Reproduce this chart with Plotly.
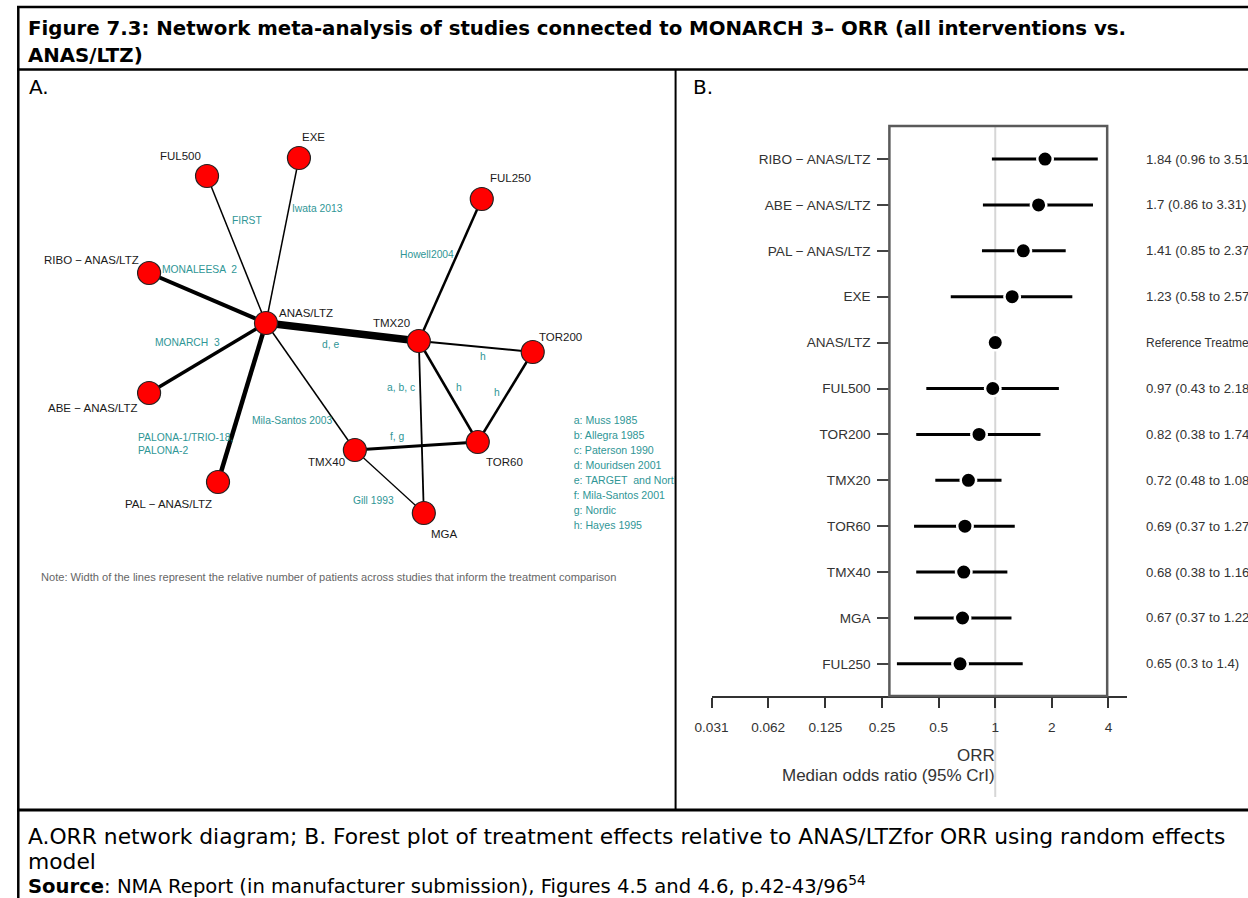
import math
import plotly.graph_objects as go

W, H = 1248, 898

# The photographed page shows the drawing horizontally offset/compressed
# (observed: photo_x ~= 15.8 + 0.9873 * page_x); target positions are
# expressed in reference-picture pixels and mapped back here.
PHOTO_OFFSET, PHOTO_SCALE = 15.8, 0.9873


def px(x):
    return max(0.0, min(1.0, ((x - PHOTO_OFFSET) / PHOTO_SCALE) / W))


def py(y):
    return 1 - y / H


# ---------------- Forest plot data (panel B) ----------------
treatments = ["RIBO − ANAS/LTZ", "ABE − ANAS/LTZ", "PAL − ANAS/LTZ", "EXE", "ANAS/LTZ",
              "FUL500", "TOR200", "TMX20", "TOR60", "TMX40", "MGA", "FUL250"]
median_or = [1.84, 1.7, 1.41, 1.23, 1.0, 0.97, 0.82, 0.72, 0.69, 0.68, 0.67, 0.65]
lower_cri = [0.96, 0.86, 0.85, 0.58, 1.0, 0.43, 0.38, 0.48, 0.37, 0.38, 0.37, 0.3]
upper_cri = [3.51, 3.31, 2.37, 2.57, 1.0, 2.18, 1.74, 1.08, 1.27, 1.16, 1.22, 1.4]
reference_treatment = "ANAS/LTZ"
x_tick_values = [0.031, 0.062, 0.125, 0.25, 0.5, 1, 2, 4]
x_tick_labels = ["0.031", "0.062", "0.125", "0.25", "0.5", "1", "2", "4"]

# ---------------- Network data (panel A) ----------------
net_nodes = ["ANAS/LTZ", "TMX20", "FUL500", "EXE", "FUL250", "RIBO − ANAS/LTZ",
             "ABE − ANAS/LTZ", "PAL − ANAS/LTZ", "TOR200", "TOR60", "TMX40", "MGA"]
# network layout coordinates (drawing units of the network diagram)
net_x = [265, 418, 206, 298, 481, 148, 148, 217, 532, 477, 354, 423]
net_y = [323, 341, 176, 158, 199, 273, 393, 482, 352, 442, 450, 513]

edge_from = ["ANAS/LTZ", "ANAS/LTZ", "ANAS/LTZ", "ANAS/LTZ", "ANAS/LTZ", "ANAS/LTZ", "ANAS/LTZ",
             "TMX20", "TMX20", "TMX20", "TMX20", "TOR200", "TMX40", "TMX40"]
edge_to = ["TMX20", "FUL500", "EXE", "RIBO − ANAS/LTZ", "ABE − ANAS/LTZ", "PAL − ANAS/LTZ", "TMX40",
           "FUL250", "TOR200", "TOR60", "MGA", "TOR60", "TOR60", "MGA"]
edge_patients = [7.5, 1.5, 1.5, 4.0, 3.5, 4.5, 1.5, 2.5, 2.0, 2.5, 1.8, 2.5, 3.0, 1.3]
edge_studies = ["d, e", "FIRST", "Iwata 2013", "MONALEESA  2", "MONARCH  3",
                "PALONA-1/TRIO-18,<br>PALONA-2", "Mila-Santos 2003", "Howell2004",
                "h", "h", "a, b, c", "h", "f, g", "Gill 1993"]
study_key = ["a: Muss 1985", "b: Allegra 1985", "c: Paterson 1990", "d: Mouridsen 2001",
             "e: TARGET  and North American", "f: Mila-Santos 2001", "g: Nordic", "h: Hayes 1995"]

# label placement (layout only)
node_label_pos = {
    "ANAS/LTZ": (305, 313), "TMX20": (391, 323), "FUL500": (179, 156), "EXE": (313, 137),
    "FUL250": (510, 178), "RIBO − ANAS/LTZ": (90, 260), "ABE − ANAS/LTZ": (92, 408),
    "PAL − ANAS/LTZ": (167, 504), "TOR200": (560, 337), "TOR60": (504, 462),
    "TMX40": (326, 462), "MGA": (444, 534),
}
edge_label_pos = [(330, 344), (246, 220), (317, 208), (198, 269), (186, 342), (135, 444),
                  (291, 420), (426, 254), (482, 356), (458, 387), (400, 387), (496, 392),
                  (397, 436), (373, 500)]

SANS = "Liberation Sans, Arial, sans-serif"
DOC = "DejaVu Sans, Verdana, sans-serif"
TEAL = "#2f9696"

fig = go.Figure()

# ---- network edges ----
idx = {n: i for i, n in enumerate(net_nodes)}
for a, b, w in zip(edge_from, edge_to, edge_patients):
    fig.add_trace(go.Scatter(
        x=[net_x[idx[a]], net_x[idx[b]]], y=[net_y[idx[a]], net_y[idx[b]]],
        mode="lines", line=dict(color="black", width=w),
        hoverinfo="skip", showlegend=False, xaxis="x", yaxis="y"))

# ---- study key (clipped by panel edge) ----
fig.add_trace(go.Scatter(
    x=[573] * len(study_key), y=[421 + 15.1 * i for i in range(len(study_key))],
    mode="text", text=study_key, textposition="middle right",
    textfont=dict(family=SANS, size=10.6, color=TEAL),
    cliponaxis=True, hoverinfo="skip", showlegend=False, xaxis="x", yaxis="y"))

# ---- network nodes ----
fig.add_trace(go.Scatter(
    x=net_x, y=net_y, mode="markers",
    marker=dict(size=23, color="#ff0000", line=dict(color="#222", width=1.2)),
    hoverinfo="skip", showlegend=False, xaxis="x", yaxis="y"))

annotations = []
for name in net_nodes:
    lx, ly = node_label_pos[name]
    annotations.append(dict(x=lx, y=ly, xref="x", yref="y", text=name, showarrow=False,
                            font=dict(family=SANS, size=11.5, color="#1a1a1a")))
for txt, (lx, ly) in zip(edge_studies, edge_label_pos):
    if "<br>" in txt:
        annotations.append(dict(x=lx, y=ly, xref="x", yref="y", text=txt, showarrow=False,
                                xanchor="left", align="left",
                                font=dict(family=SANS, size=10.3, color=TEAL)))
    else:
        annotations.append(dict(x=lx, y=ly, xref="x", yref="y", text=txt, showarrow=False,
                                font=dict(family=SANS, size=10.3, color=TEAL)))
annotations.append(dict(x=38, y=577, xref="x", yref="y", xanchor="left", showarrow=False,
                        text="Note: Width of the lines represent the relative number of patients "
                             "across studies that inform the treatment comparison",
                        font=dict(family=SANS, size=11.1, color="#666")))

# ---- forest plot ----
fig.add_trace(go.Scatter(
    x=median_or, y=treatments, mode="markers",
    marker=dict(size=15.5, color="black", line=dict(color="white", width=2.5)),
    error_x=dict(type="data", symmetric=False,
                 array=[u - m for u, m in zip(upper_cri, median_or)],
                 arrayminus=[m - l for m, l in zip(median_or, lower_cri)],
                 thickness=3, width=0, color="black"),
    hoverinfo="skip", showlegend=False, xaxis="x2", yaxis="y2"))

for t, m, l, u in zip(treatments, median_or, lower_cri, upper_cri):
    if t == reference_treatment:
        txt, size = "Reference Treatment", 12
    else:
        txt, size = f"{m:g} ({l:g} to {u:g})", 13.2
    annotations.append(dict(x=px(1144), y=t, xref="paper", yref="y2", xanchor="left",
                            text=txt, showarrow=False,
                            font=dict(family=SANS, size=size, color="#333")))

annotations += [
    dict(x=px(997), y=py(767), xref="paper", yref="paper", text="ORR", showarrow=False,
         font=dict(family=SANS, size=17, color="#333")),
    dict(x=px(997), y=py(787), xref="paper", yref="paper", text="Median odds ratio (95% CrI)",
         showarrow=False, font=dict(family=SANS, size=17, color="#333")),
]

# ---- document text ----
doc_text = [
    (25, 29, "<b>Figure 7.3: Network meta-analysis of studies connected to MONARCH 3– ORR (all interventions vs.</b>", 19.75),
    (25, 55, "<b>ANAS/LTZ)</b>", 19.75),
    (26, 87, "A.", 20),
    (690, 87, "B.", 20),
    (25, 836, "A.ORR network diagram; B. Forest plot of treatment effects relative to ANAS/LTZfor ORR using random effects", 21.8),
    (25, 861, "model", 21.8),
    (25, 885, "<b>Source</b>: NMA Report (in manufacturer submission), Figures 4.5 and 4.6, p.42-43/96<sup>54</sup>", 19.6),
]
for x, y, txt, s in doc_text:
    annotations.append(dict(x=px(x), y=py(y), xref="paper", yref="paper", xanchor="left",
                            yanchor="middle", text=txt, showarrow=False,
                            font=dict(family=DOC, size=s, color="black")))

# ---- table lines & plot frame ----
x_left = 1.3 / W  # leftmost reachable position for the table border
shapes = [
    dict(type="line", xref="paper", yref="paper", x0=0, x1=1, y0=py(7), y1=py(7),
         line=dict(color="black", width=2.5)),
    dict(type="line", xref="paper", yref="paper", x0=x_left, x1=x_left, y0=py(6), y1=0,
         line=dict(color="black", width=2.5)),
    dict(type="line", xref="paper", yref="paper", x0=0, x1=1, y0=py(69.5), y1=py(69.5),
         line=dict(color="black", width=2.5)),
    dict(type="line", xref="paper", yref="paper", x0=px(675), x1=px(675), y0=py(69), y1=py(810),
         line=dict(color="black", width=2)),
    dict(type="line", xref="paper", yref="paper", x0=0, x1=1, y0=py(810), y1=py(810),
         line=dict(color="black", width=3)),
    # reference line at OR = 1
    dict(type="line", xref="x2", yref="paper", x0=1, x1=1, y0=py(797), y1=py(126),
         line=dict(color="#d6d6d6", width=2), layer="below"),
    # plot box
    dict(type="rect", xref="paper", yref="paper", x0=px(889), x1=px(1107), y0=py(696), y1=py(126),
         line=dict(color="#5a5a5a", width=2.5)),
]

fig.update_layout(
    width=W, height=H, margin=dict(l=0, r=0, t=0, b=0), autosize=False,
    paper_bgcolor="white", plot_bgcolor="rgba(0,0,0,0)",
    showlegend=False, annotations=annotations, shapes=shapes,
    xaxis=dict(domain=[px(16), px(674)], range=[16, 674], visible=False, fixedrange=True),
    yaxis=dict(domain=[py(600), py(95)], range=[600, 95], visible=False, fixedrange=True),
    xaxis2=dict(domain=[px(711), px(1127)], type="log", anchor="y2",
                range=[math.log10(0.031), math.log10(5.03)],
                showline=True, linecolor="#333", linewidth=1.5,
                ticks="outside", ticklen=10, tickwidth=1.5, tickcolor="#333",
                tickvals=x_tick_values, ticktext=x_tick_labels, ticklabelstandoff=8,
                tickfont=dict(family=SANS, size=13.6, color="#333"),
                showgrid=False, zeroline=False, fixedrange=True),
    yaxis2=dict(domain=[py(696), py(126)], anchor="free", position=px(889),
                type="category", categoryorder="array", categoryarray=treatments,
                range=[11.70, -0.72], ticks="outside", ticklen=12, tickwidth=1.5,
                tickcolor="#444", showline=False, showgrid=False, zeroline=False, fixedrange=True,
                ticklabelstandoff=4, tickfont=dict(family=SANS, size=13.6, color="#333")),
)

fig.write_html(
    "out.html",
    config={"displayModeBar": False, "responsive": False},
    post_script=("document.documentElement.style.margin='0';document.body.style.margin='0';"
                 "document.body.style.padding='0';document.documentElement.style.overflow='hidden';"
                 "document.body.style.overflow='hidden';"
                 "var gd=document.getElementById('{plot_id}');gd.style.position='absolute';"
                 "gd.style.left='0px';gd.style.top='0px';"),
)
